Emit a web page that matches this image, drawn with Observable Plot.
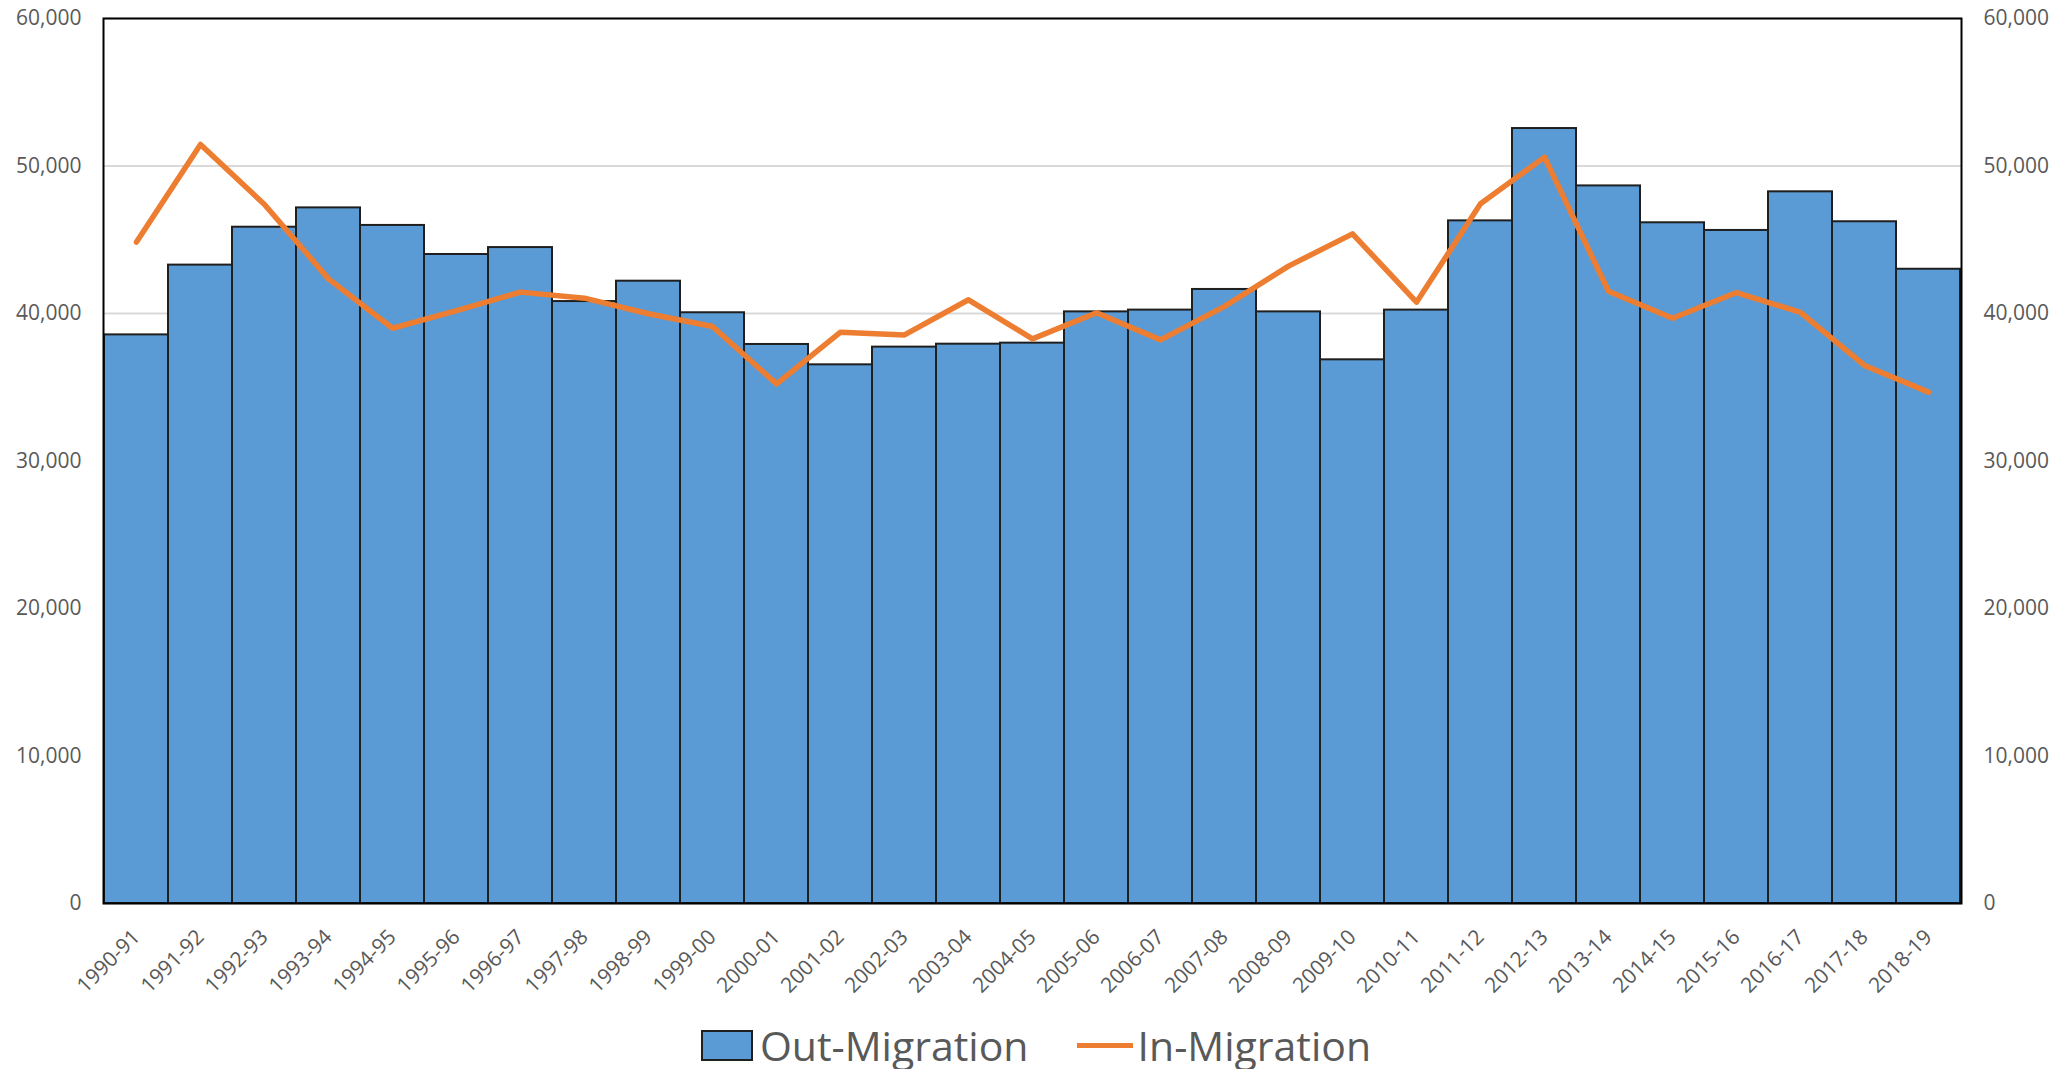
<!DOCTYPE html>
<html><head><meta charset="utf-8">
<script src="https://cdn.jsdelivr.net/npm/d3@7"></script>
<script src="https://cdn.jsdelivr.net/npm/@observablehq/plot@0.6"></script>
<style>
html,body{margin:0;padding:0;background:#fff;overflow:hidden;}
#legend{display:flex;justify-content:center;align-items:center;height:48px;padding-top:21px;font-family:"Open Sans",sans-serif;font-size:41px;line-height:1;color:#595959;}
.swatch-box{width:48px;height:27px;background:#5B9BD5;border:2px solid #1f1f1f;margin-right:7px;}
.swatch-line{width:56px;height:5px;background:#ED7D31;margin-left:48px;margin-right:5px;}
</style></head><body>
<div id="chart"></div>
<div id="legend"><div class="swatch-box"></div><span>Out-Migration</span><div class="swatch-line"></div><span>In-Migration</span></div>
<script>
const years = ["1990-91","1991-92","1992-93","1993-94","1994-95","1995-96","1996-97","1997-98","1998-99","1999-00",
  "2000-01","2001-02","2002-03","2003-04","2004-05","2005-06","2006-07","2007-08","2008-09","2009-10",
  "2010-11","2011-12","2012-13","2013-14","2014-15","2015-16","2016-17","2017-18","2018-19"];
const outMigration = [38550,43280,45850,47160,45970,44000,44470,40810,42190,40050,
  37900,36520,37720,37920,37990,40110,40230,41630,40110,36860,
  40230,46280,52540,48650,46150,45630,48250,46220,43000];
const inMigration = [44840,51460,47390,42350,39000,40200,41450,41040,39980,39120,
  35230,38730,38550,40930,38280,40050,38210,40480,43210,45400,
  40770,47440,50600,41510,39680,41420,40070,36480,34670];
const yTicks = [0,10000,20000,30000,40000,50000,60000];

const rows = years.map((y,i)=>({year:y, out:outMigration[i], inm:inMigration[i]}));

const chart = Plot.plot({
  width: 2072, height: 1000,
  marginLeft: 103, marginRight: 111, marginTop: 18, marginBottom: 97,
  style: {fontSize: "21px", fontFamily: "Open Sans", color: "#595959", background: "#fff"},
  x: {domain: years, padding: 0, tickSize: 0, tickRotate: -45, tickPadding: 30, label: null},
  y: {domain: [0, 60000], ticks: yTicks, tickFormat: d3.format(","), tickSize: 0, tickPadding: 22, label: null, axis: "both"},
  marks: [
    Plot.ruleY(yTicks, {stroke: "#d9d9d9", strokeWidth: 2}),
    Plot.barY(rows, {x: "year", y: "out", fill: "#5B9BD5", stroke: "#1f1f1f", strokeWidth: 2}),
    Plot.lineY(rows, {x: "year", y: "inm", stroke: "#ED7D31", strokeWidth: 5.5, strokeLinejoin: "round", strokeLinecap: "round"}),
    Plot.frame({stroke: "#000", strokeWidth: 2})
  ]
});
document.getElementById("chart").appendChild(chart);
</script>
</body></html>
